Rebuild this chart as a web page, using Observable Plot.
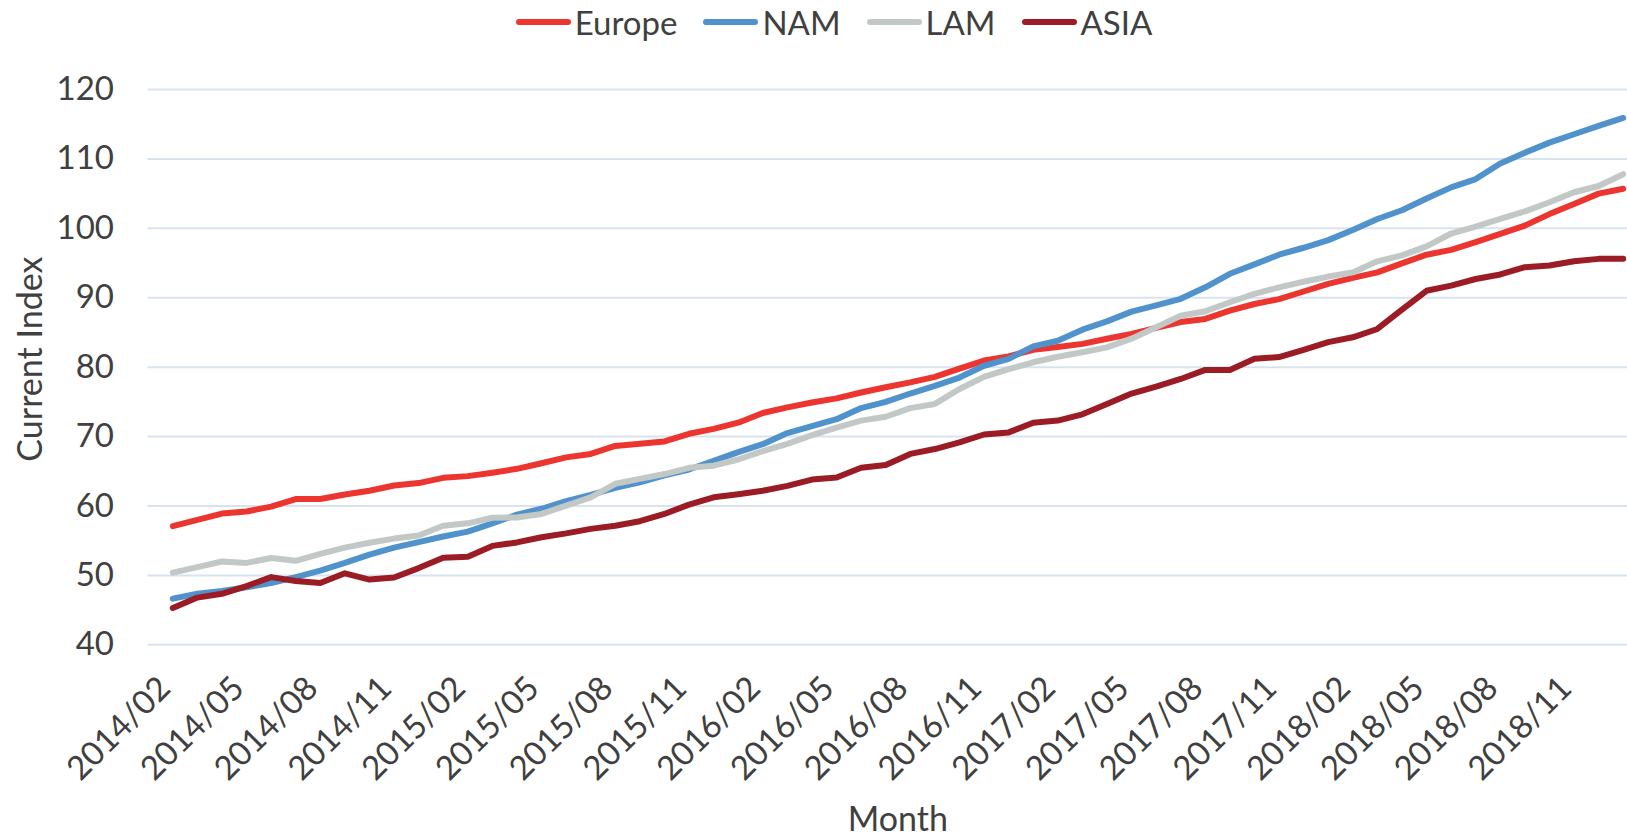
<!DOCTYPE html>
<html>
<head>
<meta charset="utf-8">
<script src="https://cdn.jsdelivr.net/npm/d3@7"></script>
<script src="https://cdn.jsdelivr.net/npm/@observablehq/plot@0.6"></script>
<style>
  html, body { margin: 0; padding: 0; background: #fff; overflow: hidden; width: 1627px; height: 839px; }
  #legend {
    height: 44px; display: flex; align-items: center; justify-content: center;
    padding-left: 41px; box-sizing: border-box;
    font-family: Lato, sans-serif; font-size: 33px; color: #404040;
  }
  .item { display: flex; align-items: center; margin: 0 13px; }
  .sw { width: 55px; height: 6px; border-radius: 3px; margin-right: 4px; }
  #chart svg { display: block; overflow: hidden; }
</style>
</head>
<body>
<div id="legend"></div>
<div id="chart"></div>
<script>
// Monthly index by region, 2014/02 – 2019/01
const months = [
  "2014/02","2014/03","2014/04","2014/05","2014/06","2014/07","2014/08","2014/09","2014/10","2014/11","2014/12",
  "2015/01","2015/02","2015/03","2015/04","2015/05","2015/06","2015/07","2015/08","2015/09","2015/10","2015/11","2015/12",
  "2016/01","2016/02","2016/03","2016/04","2016/05","2016/06","2016/07","2016/08","2016/09","2016/10","2016/11","2016/12",
  "2017/01","2017/02","2017/03","2017/04","2017/05","2017/06","2017/07","2017/08","2017/09","2017/10","2017/11","2017/12",
  "2018/01","2018/02","2018/03","2018/04","2018/05","2018/06","2018/07","2018/08","2018/09","2018/10","2018/11","2018/12",
  "2019/01"
];

const europe = [
  57.1, 58.0, 58.9, 59.2, 59.9, 61.0, 61.0, 61.65, 62.2, 62.95, 63.3,
  64.05, 64.3, 64.8, 65.35, 66.15, 67.0, 67.5, 68.65, 68.95, 69.3, 70.4, 71.1,
  72.0, 73.4, 74.2, 74.9, 75.5, 76.35, 77.1, 77.8, 78.6, 79.8, 80.95, 81.55,
  82.5, 82.9, 83.35, 84.1, 84.8, 85.65, 86.5, 86.95, 88.15, 89.1, 89.8, 90.9,
  92.0, 92.85, 93.65, 94.95, 96.2, 96.9, 98.0, 99.2, 100.4, 102.05, 103.5, 105.0,
  105.7
];

const nam = [
  46.65, 47.35, 47.75, 48.3, 48.9, 49.75, 50.7, 51.8, 53.0, 54.0, 54.8,
  55.6, 56.3, 57.5, 58.75, 59.6, 60.7, 61.6, 62.6, 63.4, 64.4, 65.25, 66.5,
  67.75, 68.9, 70.5, 71.5, 72.5, 74.1, 75.0, 76.2, 77.3, 78.5, 80.2, 81.2,
  83.0, 83.8, 85.4, 86.6, 88.0, 88.9, 89.85, 91.5, 93.45, 94.8, 96.2, 97.2,
  98.3, 99.75, 101.35, 102.6, 104.3, 105.9, 107.1, 109.35, 110.9, 112.35, 113.55, 114.75,
  115.9
];

const lam = [
  50.4, 51.2, 52.0, 51.8, 52.5, 52.1, 53.1, 54.0, 54.7, 55.3, 55.75,
  57.15, 57.5, 58.3, 58.35, 58.85, 60.05, 61.25, 63.2, 63.9, 64.6, 65.5, 65.8,
  66.7, 67.9, 68.95, 70.2, 71.3, 72.3, 72.85, 74.1, 74.7, 76.85, 78.6, 79.7,
  80.7, 81.5, 82.15, 82.85, 84.1, 85.75, 87.4, 88.05, 89.35, 90.55, 91.5, 92.3,
  93.05, 93.65, 95.25, 96.1, 97.4, 99.25, 100.25, 101.35, 102.45, 103.75, 105.2, 106.1,
  107.8
];

const asia = [
  45.3, 46.8, 47.35, 48.45, 49.75, 49.2, 48.9, 50.3, 49.4, 49.7, 51.05,
  52.55, 52.7, 54.25, 54.75, 55.5, 56.05, 56.7, 57.15, 57.8, 58.85, 60.2, 61.25,
  61.7, 62.2, 62.9, 63.8, 64.1, 65.5, 65.9, 67.5, 68.2, 69.15, 70.3, 70.6,
  72.0, 72.3, 73.2, 74.7, 76.2, 77.2, 78.3, 79.6, 79.6, 81.2, 81.45, 82.5,
  83.6, 84.3, 85.5, 88.3, 91.0, 91.75, 92.7, 93.35, 94.4, 94.65, 95.25, 95.6,
  95.6
];

const regionNames = ["Europe", "NAM", "LAM", "ASIA"];
const regionColors = ["#ec352f", "#5092cc", "#c2c8c6", "#9c1c25"];
const regionValues = [europe, nam, lam, asia];

const xTickLabels = [
  "2014/02","2014/05","2014/08","2014/11","2015/02","2015/05","2015/08","2015/11",
  "2016/02","2016/05","2016/08","2016/11","2017/02","2017/05","2017/08","2017/11",
  "2018/02","2018/05","2018/08","2018/11"
];
const yTicks = [40, 50, 60, 70, 80, 90, 100, 110, 120];

// long table, one series after another so later regions draw on top
const rows = regionNames.flatMap((name, s) =>
  months.map((m, i) => ({month: m, region: name, value: regionValues[s][i]}))
);

// legend row
const legend = document.getElementById("legend");
regionNames.forEach((name, i) => {
  const item = document.createElement("div");
  item.className = "item";
  const sw = document.createElement("span");
  sw.className = "sw";
  sw.style.background = regionColors[i];
  const label = document.createElement("span");
  label.textContent = name;
  item.append(sw, label);
  legend.append(item);
});

const ink = "#404040";
const chart = Plot.plot({
  width: 1627,
  height: 795,
  marginLeft: 147.5,
  marginRight: 0,
  marginTop: 45,
  marginBottom: 194.7,
  style: {fontFamily: "Lato, sans-serif", color: ink, background: "white", overflow: "hidden"},
  x: {type: "point", domain: months, range: [160, 1635]},
  y: {domain: [40, 120]},
  color: {domain: regionNames, range: regionColors},
  marks: [
    Plot.ruleY(yTicks, {stroke: "#d9e3ef", strokeWidth: 2}),
    Plot.axisY({ticks: yTicks, tickSize: 0, tickPadding: 34, fontSize: 33, label: null}),
    Plot.axisX({ticks: xTickLabels, tickSize: 0, tickRotate: -45, tickPadding: 38, dx: -8, fontSize: 33, label: null}),
    Plot.line(rows, {
      x: "month", y: "value", z: "region", stroke: "region",
      strokeWidth: 6, strokeLinejoin: "round", clip: true
    }),
    Plot.text(["Current Index"], {
      text: d => d, frameAnchor: "left", rotate: -90, textAnchor: "middle", lineAnchor: "middle",
      dx: -116.5, dy: -8, fontSize: 34, fill: ink
    }),
    Plot.text(["Month"], {
      text: d => d, frameAnchor: "bottom", textAnchor: "middle", lineAnchor: "middle",
      dx: 10, dy: 175, fontSize: 34, fill: ink
    })
  ]
});
document.getElementById("chart").append(chart);
</script>
</body>
</html>
